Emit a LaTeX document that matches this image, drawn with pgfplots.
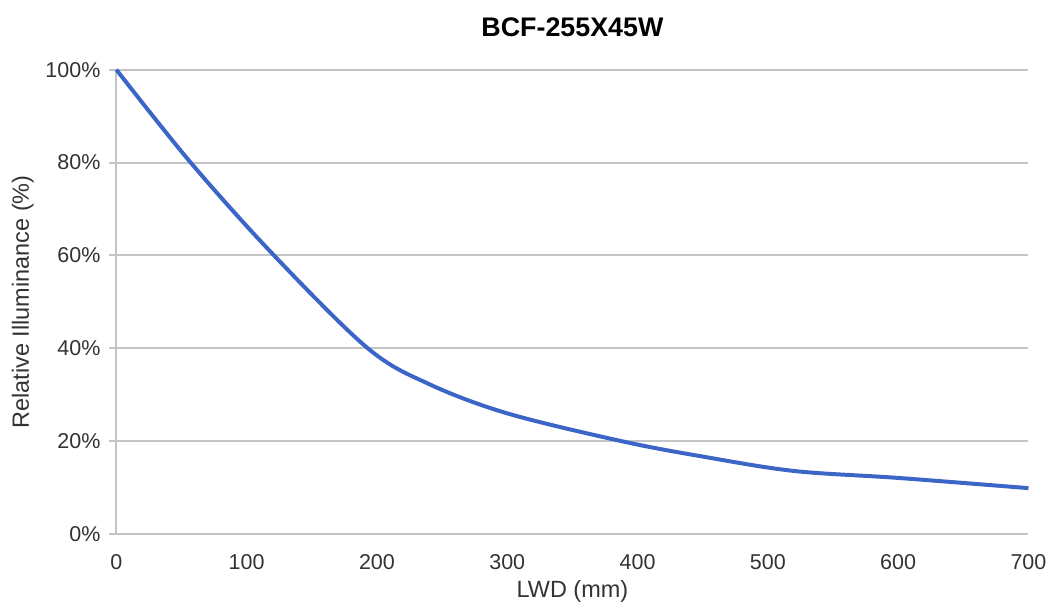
\documentclass[border=0pt]{standalone}
\usepackage{pgfplots}
\pgfplotsset{compat=1.18}
\usepackage{fontspec}
\setmainfont{Liberation Sans}
\definecolor{curve}{HTML}{3B65C6}
\definecolor{gridc}{HTML}{C4C4C4}
\definecolor{txt}{HTML}{333333}
\begin{document}
\begin{tikzpicture}
\begin{axis}[
    at={(0,0)}, anchor=south west,
    scale only axis,
    width=458.5pt, height=233.5pt,
    xmin=0, xmax=700, ymin=0, ymax=100,
    xtick={0,100,...,700},
    ytick={0,20,...,100},
    yticklabel={\pgfmathprintnumber{\tick}\%},
    /pgf/number format/assume math mode=true,
    axis x line=bottom, axis y line=left,
    axis line style={gridc, line width=1pt, -},
    ymajorgrids=true,
    grid style={gridc, line width=1pt},
    major y tick style={gridc, line width=1pt},
    ytick style={gridc}, xtick style={draw=none},
    tick align=outside, major tick length=3.5pt,
    ticklabel style={font=\fontsize{10.8}{12}\selectfont, text=txt},
    xticklabel style={yshift=-3pt},
    yticklabel style={xshift=-1pt},
    xlabel={LWD (mm)},
    ylabel={Relative Illuminance (\%)},
    label style={font=\fontsize{11.8}{13}\selectfont, text=txt},
    xlabel style={yshift=1pt},
    ylabel style={yshift=-1pt},
    title={\textbf{BCF-255X45W}},
    title style={font=\fontsize{13.5}{15}\selectfont, text=black, yshift=7pt},
    clip=false,
]
\addplot[curve, line width=2pt, smooth, tension=0.55] coordinates {
    (0, 100)
    (57, 80)
    (121, 60)
    (193, 40)
    (240, 32.3)
    (300, 26.0)
    (388, 20)
    (450, 16.7)
    (520, 13.6)
    (600, 12.1)
    (700, 9.9)
};
\end{axis}
\useasboundingbox (-58.5pt,-40.5pt) rectangle (468pt,268.5pt);
\end{tikzpicture}
\end{document}
